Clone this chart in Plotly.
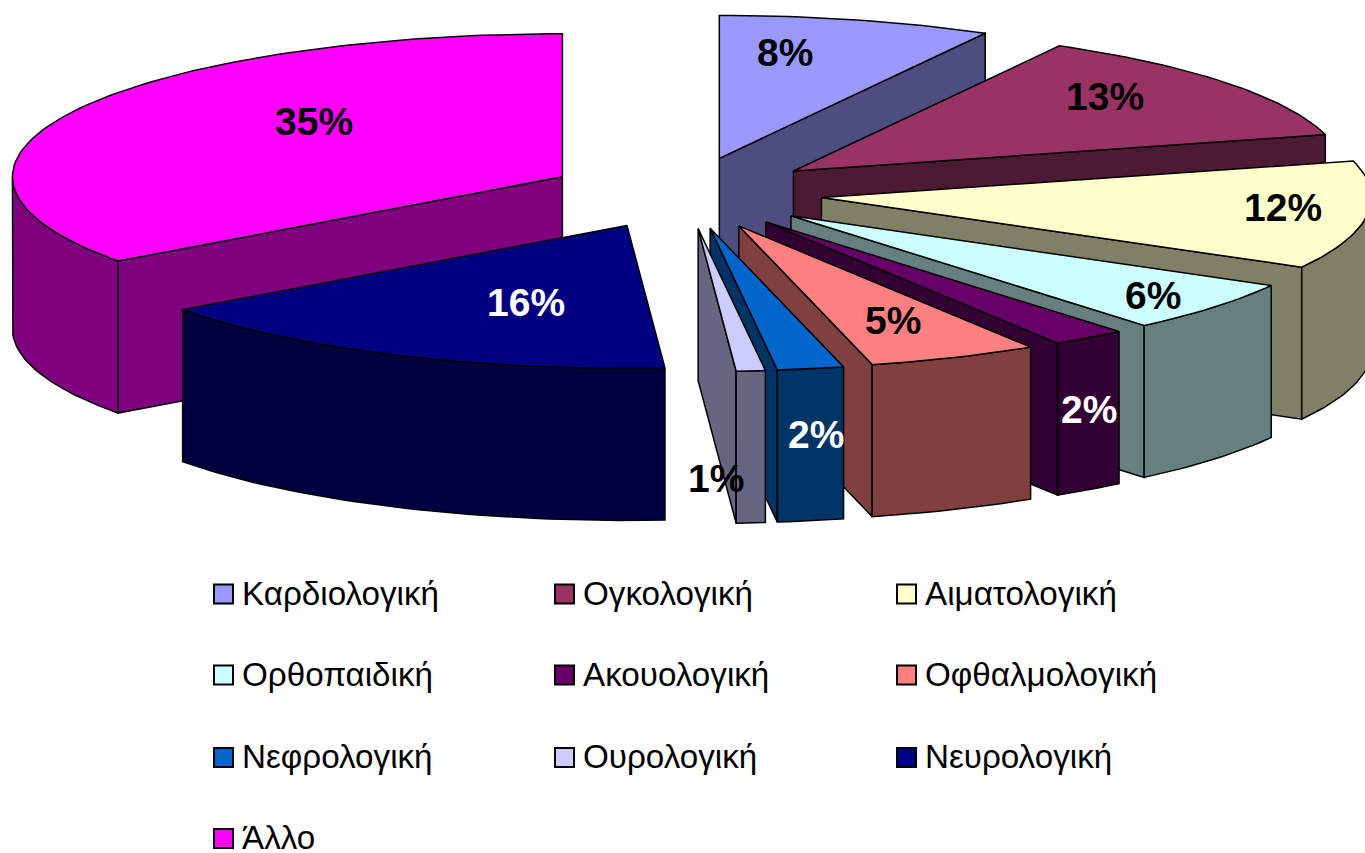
import math
import plotly.graph_objects as go

categories = ["Καρδιολογική", "Ογκολογική", "Αιματολογική", "Ορθοπαιδική", "Ακουολογική",
              "Οφθαλμολογική", "Νεφρολογική", "Ουρολογική", "Νευρολογική", "Άλλο"]
values = [8.03, 12.87, 12.2, 5.8, 2.2, 5.0, 1.95, 0.85, 16.07, 35.03]
top_colors = ["#9999FF", "#993366", "#FFFFCC", "#CCFFFF", "#660066",
              "#FF8080", "#0066CC", "#CCCCFF", "#000080", "#FF00FF"]
wall_colors = ["#4D4D80", "#4D1A33", "#808066", "#668080", "#330033",
               "#804040", "#003366", "#666680", "#000040", "#800080"]
label_colors = ["black", "black", "black", "black", "white",
                "black", "white", "black", "white", "black"]
label_x = [785, 1105, 1283, 1153, 1089, 893, 816, 716, 526, 314]
label_y = [52, 96, 207, 295, 409, 320, 434, 478, 302, 121]
draw_order = [0, 9, 1, 2, 3, 4, 5, 8, 6, 7]

CX, CY = 685.0, 193.0
A, B = 550.0, 143.0
DEPTH = 152.0
EXPLODE = 0.25
EDGE = dict(color="black", width=1.5)

total = sum(values)
fig = go.Figure()


def poly(pts, color):
    xs = [p[0] for p in pts] + [pts[0][0]]
    ys = [p[1] for p in pts] + [pts[0][1]]
    fig.add_trace(go.Scatter(x=xs, y=ys, mode="lines", fill="toself", fillcolor=color,
                             line=EDGE, hoverinfo="skip", showlegend=False))


starts = []
acc = 0
for v in values:
    starts.append(acc)
    acc += v

for i in draw_order:
    t0 = starts[i] / total * 2 * math.pi
    t1 = (starts[i] + values[i]) / total * 2 * math.pi
    tm = (t0 + t1) / 2
    ax = CX + EXPLODE * A * math.sin(tm)
    ay = CY - EXPLODE * B * math.cos(tm)

    def pt(t):
        return (ax + A * math.sin(t), ay - B * math.cos(t))

    def down(p):
        return (p[0], p[1] + DEPTH)

    n = max(6, int(values[i] * 3))
    ts = [t0 + (t1 - t0) * k / n for k in range(n + 1)]
    arc = [pt(t) for t in ts]
    apex = (ax, ay)
    wall = wall_colors[i]
    if math.sin(t0) < -1e-6:
        poly([apex, arc[0], down(arc[0]), down(apex)], wall)
    if math.sin(t1) > 1e-6:
        poly([apex, arc[-1], down(arc[-1]), down(apex)], wall)
    # outer wall: only the part of the arc facing the viewer
    front = [t for t in ts if math.cos(t) <= 1e-9]
    if len(front) >= 2:
        tops = [pt(t) for t in front]
        poly(tops + [down(p) for p in reversed(tops)], wall)
    poly([apex] + arc, top_colors[i])

for i, v in enumerate(values):
    fig.add_annotation(x=label_x[i], y=label_y[i], text=f"<b>{round(v)}%</b>", showarrow=False,
                       font=dict(family="Liberation Sans", size=39, color=label_colors[i]))

# legend
LEG_X = [223.5, 564.5, 906.5]
LEG_Y = [594, 675, 757.5, 838.5]
for i, name in enumerate(categories):
    col, row = i % 3, i // 3
    fig.add_trace(go.Scatter(x=[LEG_X[col]], y=[LEG_Y[row]], mode="markers", showlegend=False,
                             hoverinfo="skip",
                             marker=dict(symbol="square", size=19, color=top_colors[i],
                                         line=dict(color="black", width=2))))
    fig.add_annotation(x=LEG_X[col] + 16.5, y=LEG_Y[row] - 1, text=name, showarrow=False, xanchor="left",
                       font=dict(family="Liberation Sans", size=33.2, color="black"))

fig.update_layout(width=1365, height=853, margin=dict(l=0, r=0, t=0, b=0),
                  paper_bgcolor="white", plot_bgcolor="white", showlegend=False,
                  xaxis=dict(range=[0, 1365], visible=False, fixedrange=True),
                  yaxis=dict(range=[853, 0], visible=False, fixedrange=True))
fig.write_html("out.html", config=dict(displayModeBar=False),
               post_script="document.body.style.margin='0';document.documentElement.style.overflow='hidden';")
